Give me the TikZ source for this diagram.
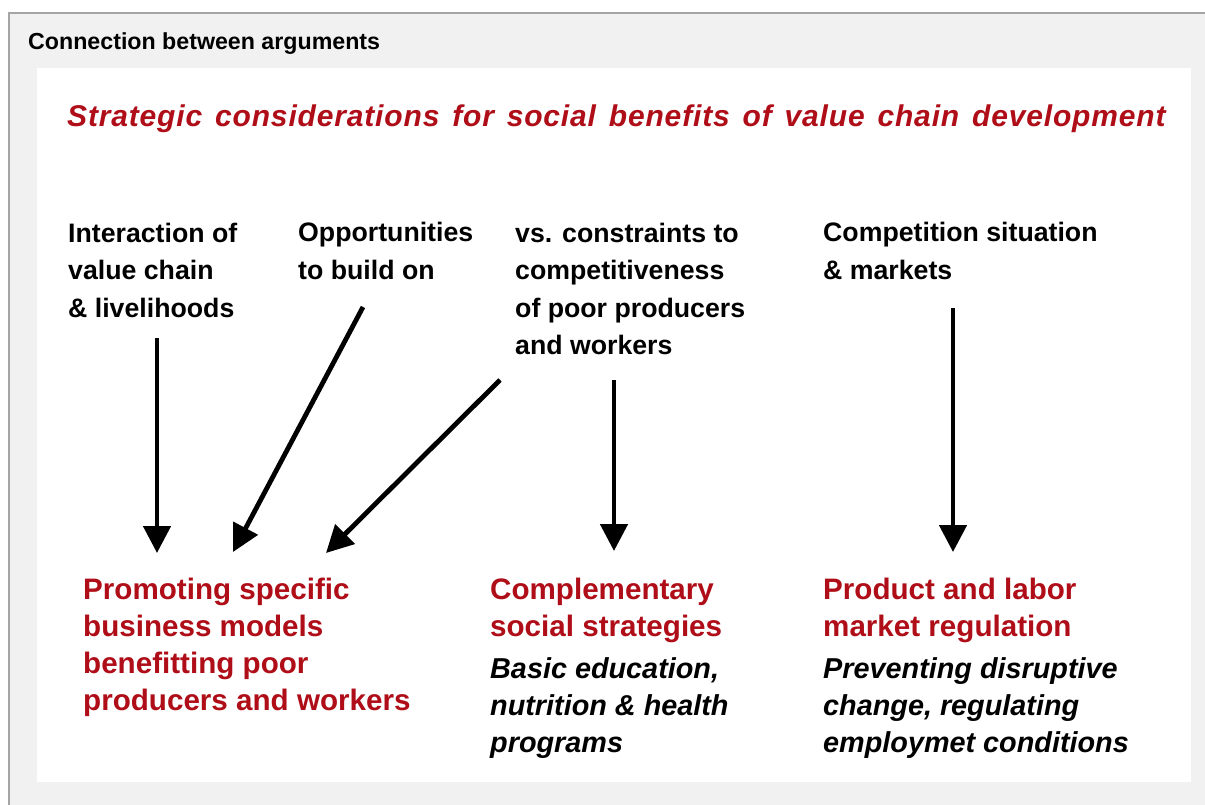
\documentclass[tikz,border=0pt]{standalone}
\usepackage{fontspec}
\setmainfont{Liberation Sans}
\newfontfamily\titlefont{Liberation Sans}[WordSpace=1.4, LetterSpace=2.8]
\usetikzlibrary{arrows.meta, positioning, calc}
\definecolor{chainred}{RGB}{175,14,24}
\definecolor{panelgray}{RGB}{241,241,241}
\definecolor{rulegray}{RGB}{165,165,165}

\tikzset{
  driver/.style={anchor=base west, align=left, inner sep=0pt,
    font=\bfseries\fontsize{26.7}{37.5}\selectfont},
  strategy/.style={anchor=base west, align=left, inner sep=0pt, text=chainred,
    font=\bfseries\fontsize{29.6}{37}\selectfont},
  measure/.style={anchor=base west, align=left, inner sep=0pt,
    font=\bfseries\itshape\fontsize{28.8}{37}\selectfont},
  push/.style={line width=4.8pt, -{Triangle[length=27pt,width=27pt]}},
}

\begin{document}
\begin{tikzpicture}[x=1pt, y=-1pt]
  \useasboundingbox (0,0) rectangle (1205,805);
  % panel
  \fill[panelgray] (9,13) rectangle (1205,805);
  \draw[rulegray, line width=1.5pt] (9,805) -- (9,13) -- (1205,13);
  \fill[white] (37,68) rectangle (1191,782);
  \node[anchor=base west, inner sep=0pt, font=\bfseries\fontsize{23.2}{26}\selectfont]
    (heading) at (28,50) {Connection between arguments};
  \node[anchor=base west, inner sep=0pt, text=chainred,
    font=\titlefont\bfseries\itshape\fontsize{30}{34}\selectfont]
    (title) at (67,127) {Strategic considerations for social benefits of value chain development};
  % drivers (base = last line)
  \node[driver] (interact) at (68,317) {Interaction of\\value chain\\\& livelihoods};
  \node[driver] (chances) at (298,279.5) {Opportunities\\to build on};
  \node[driver] (limits) at (515,354.5) {vs. constraints to\\competitiveness\\of poor producers\\and workers};
  \node[driver] (compete) at (823,279.5) {Competition situation\\\& markets};
  % strategies
  \node[strategy] (models) at (83,710) {Promoting specific\\business models\\benefitting poor\\producers and workers};
  \node[strategy] (social) at (490,636) {Complementary\\social strategies};
  \node[strategy] (regul) at (823,636) {Product and labor\\market regulation};
  \node[measure] (basics) at (490,752) {Basic education,\\nutrition \& health\\programs};
  \node[measure] (prevent) at (823,752) {Preventing disruptive\\change, regulating\\employmet conditions};
  % arrows
  \coordinate (a1) at (157,338);
  \coordinate (b1) at (157,553);
  \coordinate (a2) at (363,307);
  \coordinate (b2) at (233,552);
  \coordinate (a3) at (500,380);
  \coordinate (b3) at (326,553);
  \coordinate (a4) at (614,380);
  \coordinate (b4) at (614,551);
  \coordinate (a5) at (953,308);
  \coordinate (b5) at (953,552);
  \foreach \i in {1,...,5}
    \draw[push] (a\i) -- (b\i);
\end{tikzpicture}
\end{document}
